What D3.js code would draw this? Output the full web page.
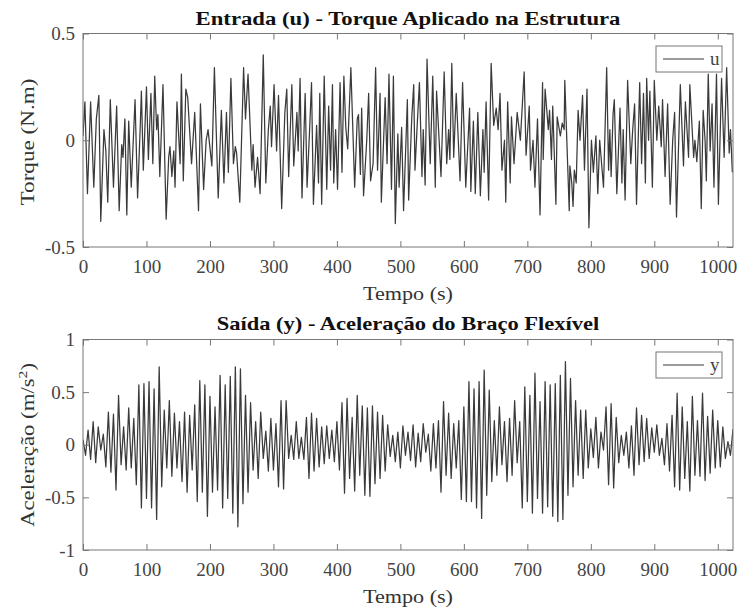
<!DOCTYPE html>
<html><head><meta charset="utf-8">
<script src="https://cdn.jsdelivr.net/npm/d3@7"></script>
<style>
body{margin:0;background:#fff}
svg{display:block}
text{font-family:"Liberation Serif","Times New Roman",Times,serif}
</style>
</head><body><div id="chart"></div>
<script>
// ---------- DATA ----------
const tempoTicks = [0,100,200,300,400,500,600,700,800,900,1000];
const uTicks = [-0.5,0,0.5];
const yTicks = [-1,-0.5,0,0.5,1];

// u: torque (time s, value N.m)
const uSamples = [
[0,0.02],[3,0.18],[7,-0.25],[12,0.18],[17,-0.22],[21,0.10],[25,0.21],[28,-0.38],[33,0.05],[36,-0.05],
[39,-0.29],[43,0.19],[48,-0.22],[53,0.16],[57,-0.33],[61,-0.02],[63,-0.08],[66,0.10],[69,-0.35],[72,0.09],
[76,-0.22],[82,0.19],[86,-0.27],[90,0.05],[92,0.23],[95,-0.14],[100,0.25],[103,-0.09],[107,0.22],[110,-0.11],
[113,0.30],[116,0.05],[118,0.12],[121,-0.17],[126,0.26],[131,-0.37],[135,-0.08],[137,-0.03],[140,-0.17],[143,-0.05],
[145,-0.22],[148,0.18],[153,-0.11],[155,0.31],[158,-0.19],[162,0.24],[165,0.20],[171,-0.11],[176,0.13],[182,-0.33],
[185,0.17],[190,-0.23],[194,0.0],[197,0.05],[203,-0.12],[207,0.34],[213,-0.27],[218,0.14],[222,-0.20],[226,0.13],
[229,-0.15],[233,0.29],[237,-0.11],[240,-0.03],[242,-0.06],[247,-0.29],[253,0.34],[256,0.10],[260,0.31],
[266,-0.14],[268,-0.02],[271,-0.22],[275,-0.08],[279,-0.25],[284,0.40],[288,-0.20],[292,0.05],[295,0.16],[297,-0.03],
[301,0.26],[305,-0.05],[308,0.21],[313,-0.32],[318,0.13],[321,0.24],[324,-0.17],[329,0.26],[332,-0.12],[337,0.13],
[339,-0.05],[342,0.29],[345,-0.27],[350,0.22],[353,-0.22],[357,0.05],[360,0.27],[363,-0.30],[368,0.07],[371,-0.20],
[373,0.22],[376,-0.30],[380,0.30],[384,-0.23],[387,0.16],[390,-0.14],[393,0.26],[395,-0.20],[398,0.05],[401,-0.23],
[405,0.27],[408,-0.15],[411,0.30],[414,0.06],[417,-0.04],[422,0.34],[428,-0.22],[432,0.10],[434,0.12],[437,-0.16],
[439,0.15],[442,-0.26],[447,0.0],[450,0.22],[453,-0.19],[457,-0.11],[461,0.34],[464,-0.14],[468,0.22],[470,-0.29],
[476,0.20],[479,-0.11],[482,0.31],[486,-0.23],[489,0.30],[492,-0.39],[496,0.03],[498,-0.22],[502,0.06],[505,-0.33],
[511,0.19],[513,-0.28],[518,0.11],
[521,0.26],[523,-0.14],[527,0.10],[530,0.27],[534,-0.17],[536,0.05],[539,-0.21],[542,0.38],[547,-0.11],[551,0.30],
[555,-0.22],[557,0.23],[564,-0.17],[569,0.32],[573,-0.11],[576,0.05],[578,-0.09],[581,0.36],[584,-0.08],[588,0.22],
[594,-0.19],[598,0.27],[603,-0.22],[609,0.15],[611,-0.24],[615,0.09],[618,-0.25],[622,0.13],[626,-0.26],[630,0.05],
[632,-0.15],[635,0.18],[639,-0.28],[643,0.36],[647,0.07],[651,0.15],[654,0.05],[657,0.22],[660,-0.14],[664,0.0],
[666,-0.29],[669,0.18],[673,-0.20],[675,0.11],[679,-0.11],[684,0.13],[689,0.0],[695,0.32],[698,-0.07],[703,0.16],
[705,-0.14],[709,0.0],[712,-0.22],[716,0.10],[720,-0.35],[724,0.27],[725,-0.09],[728,0.24],[733,0.05],[735,0.14],
[738,-0.09],[740,0.16],[745,-0.30],[747,0.11],[752,0.02],[755,0.08],[758,0.05],[759,0.28],[766,-0.33],[767,-0.12],
[770,-0.20],[772,-0.31],[774,-0.14],[777,-0.20],
[780,0.14],[783,0.0],[787,0.21],[790,-0.14],[794,0.24],[797,-0.41],[801,0.0],[804,-0.15],[808,0.02],[811,-0.25],
[814,0.0],[820,-0.22],[825,0.34],[828,-0.14],[830,0.05],[832,-0.17],[835,0.12],[837,0.19],[841,-0.25],[846,0.15],
[849,-0.20],[851,0.05],[854,-0.28],[858,0.28],[863,-0.11],[866,0.05],[869,0.17],[872,-0.30],[877,0.27],[880,-0.11],
[883,0.22],[886,-0.20],[888,0.29],[891,0.0],[893,0.23],[897,-0.22],[900,0.28],[904,0.0],[907,0.16],[911,-0.03],
[913,0.19],[917,-0.17],[921,0.17],[925,-0.30],[929,0.0],[932,0.13],[935,-0.36],[941,0.26],[946,-0.12],[949,0.18],
[954,-0.08],[956,0.26],[962,-0.08],[964,0.0],[967,-0.10],[971,0.09],[974,-0.32],[977,0.14],[980,0.0],[982,-0.19],
[985,0.31],[988,-0.05],[991,0.17],[994,-0.22],[998,0.31],[1001,-0.30],[1006,0.29],[1010,-0.08],[1014,0.34],[1018,-0.06],
[1020,0.05],[1023,-0.15]
];

// y: acceleration – alternating crests (t = 0,8,16,...) and troughs (t = 4,12,20,...)
const ySampleStep = 4;
const yPeaks = [
0.05,0.14,0.22,0.17,0.10,0.31,0.29,0.47,0.17,0.35,0.25,0.57,0.58,0.60,0.53,0.74,0.33,0.42,0.30,0.22,0.31,0.28,0.38,0.61,0.57,0.46,0.36,0.66,0.57,0.65,0.74,0.72,
0.47,0.40,0.22,0.31,0.13,0.25,0.20,0.42,0.42,0.09,0.22,0.07,0.26,0.30,0.25,0.17,0.18,0.14,0.22,0.40,0.44,0.26,0.47,0.37,0.35,0.37,0.31,0.28,0.19,0.09,0.12,0.18,0.12,
0.19,0.11,0.20,0.10,0.20,0.23,0.41,0.30,0.20,0.23,0.36,0.60,0.53,0.60,0.71,0.52,0.23,0.36,0.22,0.25,0.42,0.22,0.55,0.47,0.68,0.41,0.60,0.57,0.58,0.66,0.79,0.63,0.42,0.33,
0.33,0.15,0.26,0.12,0.36,0.39,0.26,0.09,0.12,0.18,0.35,0.28,0.25,0.16,0.19,0.06,0.20,0.28,0.49,0.36,0.22,0.46,0.23,0.49,0.27,0.33,0.23,0.17,0.03,0.15
];
const yTroughs = [
-0.10,-0.14,-0.17,-0.05,-0.21,-0.26,-0.43,-0.19,-0.24,-0.22,-0.38,-0.60,-0.51,-0.60,-0.71,-0.40,-0.22,-0.30,-0.22,-0.35,-0.45,-0.24,-0.54,-0.45,-0.68,-0.45,-0.43,-0.60,-0.51,-0.65,-0.78,-0.56,
-0.45,-0.24,-0.32,-0.13,-0.25,-0.24,-0.40,-0.42,-0.13,-0.14,-0.13,-0.14,-0.32,-0.25,-0.21,-0.18,-0.13,-0.16,-0.24,-0.46,-0.32,-0.44,-0.29,-0.48,-0.49,-0.37,-0.32,-0.25,-0.11,-0.16,-0.22,-0.10,
-0.15,-0.21,-0.16,-0.07,-0.25,-0.22,-0.45,-0.29,-0.32,-0.22,-0.52,-0.54,-0.54,-0.60,-0.70,-0.48,-0.35,-0.29,-0.19,-0.35,-0.29,-0.17,-0.60,-0.54,-0.65,-0.51,-0.65,-0.59,-0.68,-0.73,-0.71,-0.48,-0.40,-0.29,
-0.32,-0.22,-0.12,-0.22,-0.05,-0.38,-0.41,-0.17,-0.10,-0.22,-0.29,-0.19,-0.16,-0.13,-0.07,-0.10,-0.19,-0.25,-0.40,-0.43,-0.32,-0.44,-0.29,-0.30,-0.34,-0.27,-0.22,-0.21,-0.13,-0.10
];
const ySamples = [];
for (let i = 0; i < yPeaks.length + yTroughs.length; i++) {
  ySamples.push([i * ySampleStep, i % 2 === 0 ? yPeaks[i / 2] : yTroughs[(i - 1) / 2]]);
}

// ---------- LAYOUT ----------
const W = 740, H = 610;
const L = 83, R = 733;
const axisColor = "#777", tickTextColor = "#444", labelColor = "#333", lineColor = "#3a3a3a";

const svg = d3.select("#chart").append("svg").attr("width", W).attr("height", H);
svg.append("rect").attr("width", W).attr("height", H).attr("fill", "#fff");

const x = d3.scaleLinear().domain([0, 1024]).range([L, R]);

const panels = [
  {id:"u", top:33.5, bottom:247, domain:[-0.5,0.5], ticks:uTicks, data:uSamples,
   title:"Entrada (u) - Torque Aplicado na Estrutura", titleY:25, titleW:425,
   xlabY:300, ylab:["Torque (N.m)"], ylabW:127, ylabCY:142, legendLabel:"u"},
  {id:"y", top:339.5, bottom:550, domain:[-1,1], ticks:yTicks, data:ySamples,
   title:"Saída (y) - Aceleração do Braço Flexível", titleY:330, titleW:383,
   xlabY:603, ylab:["Aceleração (m/s","2",")"], ylabW:164, ylabCY:445, legendLabel:"y"}
];

function fitText(sel, target) {
  const w = sel.node().getComputedTextLength();
  return target / w;
}

panels.forEach(p => {
  const y = d3.scaleLinear().domain(p.domain).range([p.bottom, p.top]);
  const g = svg.append("g");

  const cid = "clip-" + p.id;
  svg.append("clipPath").attr("id", cid).append("rect")
    .attr("x", L).attr("y", p.top).attr("width", R - L).attr("height", p.bottom - p.top);

  const line = d3.line().x(d => x(d[0])).y(d => y(d[1]));
  g.append("path").datum(p.data).attr("clip-path", `url(#${cid})`)
    .attr("d", line).attr("fill", "none").attr("stroke", lineColor)
    .attr("stroke-width", 1.25).attr("stroke-linejoin", "round");

  const fmt = d => String(d);
  const axB = g.append("g").attr("transform", `translate(0,${p.bottom})`)
    .call(d3.axisBottom(x).tickValues(tempoTicks).tickSize(-6).tickSizeOuter(0).tickPadding(13).tickFormat(fmt));
  const axT = g.append("g").attr("transform", `translate(0,${p.top})`)
    .call(d3.axisTop(x).tickValues(tempoTicks).tickSize(-6).tickSizeOuter(0).tickFormat(""));
  const axL = g.append("g").attr("transform", `translate(${L},0)`)
    .call(d3.axisLeft(y).tickValues(p.ticks).tickSize(-6).tickSizeOuter(0).tickPadding(8).tickFormat(fmt));
  const axR = g.append("g").attr("transform", `translate(${R},0)`)
    .call(d3.axisRight(y).tickValues(p.ticks).tickSize(-6).tickSizeOuter(0).tickFormat(""));
  [axB, axT, axL, axR].forEach(a => {
    a.select(".domain").remove();
    a.selectAll("line").attr("stroke", axisColor);
    a.selectAll("text").attr("font-size", 19).attr("fill", tickTextColor);
  });

  g.append("rect").attr("x", L).attr("y", p.top).attr("width", R - L).attr("height", p.bottom - p.top)
    .attr("fill", "none").attr("stroke", axisColor).attr("stroke-width", 1);

  const t = g.append("text").attr("text-anchor", "middle").attr("font-weight", "bold")
    .attr("font-size", 19).attr("fill", "#111").text(p.title);
  const st = fitText(t, p.titleW);
  t.attr("transform", `translate(${(L + R) / 2},${p.titleY}) scale(${st},1)`);

  const xl = g.append("text").attr("text-anchor", "middle").attr("font-size", 19)
    .attr("fill", labelColor).text("Tempo (s)");
  const sx = fitText(xl, 90);
  xl.attr("transform", `translate(${(L + R) / 2},${p.xlabY}) scale(${sx},1)`);

  const yl = g.append("text").attr("text-anchor", "middle").attr("font-size", 19).attr("fill", labelColor);
  yl.append("tspan").text(p.ylab[0]);
  if (p.ylab.length > 1) {
    yl.append("tspan").attr("dy", -7).attr("font-size", 13).text(p.ylab[1]);
    yl.append("tspan").attr("dy", 7).text(p.ylab[2]);
  }
  const w0 = yl.node().getBBox().width;
  const sy = p.ylabW / w0;
  yl.attr("transform", `translate(34,${p.ylabCY}) rotate(-90) scale(${sy},1)`);

  const lg = g.append("g").attr("transform", `translate(656,${p.top + 12.5})`);
  lg.append("rect").attr("width", 66).attr("height", 26).attr("fill", "#fff")
    .attr("stroke", axisColor).attr("stroke-width", 1);
  lg.append("line").attr("x1", 7).attr("x2", 48).attr("y1", 13).attr("y2", 13)
    .attr("stroke", lineColor).attr("stroke-width", 1.1);
  lg.append("text").attr("x", 54).attr("y", 19).attr("font-size", 19).attr("fill", tickTextColor)
    .text(p.legendLabel);
});
</script>
</body></html>
